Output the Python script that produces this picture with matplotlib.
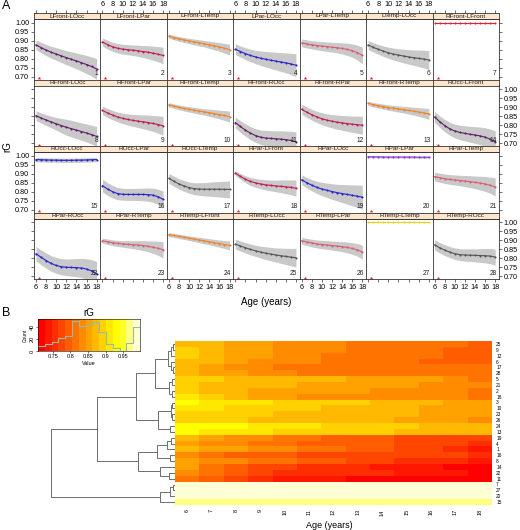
import numpy as np
import matplotlib
matplotlib.use("Agg")
import matplotlib.pyplot as plt
from matplotlib.colors import ListedColormap, BoundaryNorm, hsv_to_rgb
from matplotlib.ticker import FormatStrFormatter

plt.rcParams['font.family'] = ['Liberation Sans', 'DejaVu Sans']

# ---- data ------------------------------------------------------------
ages = np.arange(6, 19)

panel_names = ['LFront-LOcc', 'LFront-LPar', 'LFront-LTemp', 'LPar-LOcc', 'LPar-LTemp', 'LTemp-LOcc', 'RFront-LFront',
               'RFront-LOcc', 'RFront-LPar', 'RFront-LTemp', 'RFront-ROcc', 'RFront-RPar', 'RFront-RTemp', 'ROcc-LFront',
               'ROcc-LOcc', 'ROcc-LPar', 'ROcc-LTemp', 'RPar-LFront', 'RPar-LOcc', 'RPar-LPar', 'RPar-LTemp',
               'RPar-ROcc', 'RPar-RTemp', 'RTemp-LFront', 'RTemp-LOcc', 'RTemp-LPar', 'RTemp-LTemp', 'RTemp-ROcc']

# lobe-pair type of each panel, used for the line colour
pair_type = ['FO', 'FP', 'FT', 'PO', 'PT', 'TO', 'FF',
             'FO', 'FP', 'FT', 'FO', 'FP', 'FT', 'FO',
             'OO', 'PO', 'TO', 'FP', 'PO', 'PP', 'PT',
             'PO', 'PT', 'FT', 'TO', 'PT', 'TT', 'TO']

type_colors = {'FO': '#5E1F63', 'FP': '#C2185B', 'FT': '#F5821F', 'PO': '#2424CC', 'PT': '#DA5C72',
               'TO': '#555555', 'FF': '#E8202A', 'OO': '#2424CC', 'PP': '#8E35D8', 'TT': '#EBD21C'}

# mean genetic correlation per age (6..18)
rg_mean = [
    [0.877, 0.862, 0.848, 0.836, 0.826, 0.816, 0.806, 0.797, 0.788, 0.778, 0.768, 0.757, 0.743],
    [0.893, 0.878, 0.866, 0.858, 0.853, 0.850, 0.847, 0.844, 0.840, 0.836, 0.831, 0.825, 0.818],
    [0.925, 0.917, 0.910, 0.904, 0.898, 0.893, 0.888, 0.883, 0.877, 0.871, 0.865, 0.858, 0.850],
    [0.853, 0.840, 0.828, 0.818, 0.810, 0.803, 0.797, 0.792, 0.787, 0.782, 0.777, 0.771, 0.764],
    [0.888, 0.882, 0.877, 0.873, 0.870, 0.867, 0.864, 0.861, 0.857, 0.852, 0.845, 0.834, 0.818],
    [0.876, 0.863, 0.852, 0.842, 0.833, 0.826, 0.820, 0.815, 0.810, 0.806, 0.802, 0.798, 0.793],
    [0.997, 0.997, 0.997, 0.997, 0.997, 0.997, 0.997, 0.997, 0.997, 0.997, 0.997, 0.997, 0.997],
    [0.853, 0.840, 0.829, 0.818, 0.808, 0.798, 0.789, 0.781, 0.773, 0.765, 0.757, 0.748, 0.738],
    [0.882, 0.868, 0.856, 0.846, 0.838, 0.832, 0.827, 0.823, 0.819, 0.815, 0.810, 0.804, 0.797],
    [0.913, 0.906, 0.899, 0.893, 0.888, 0.883, 0.878, 0.874, 0.869, 0.864, 0.859, 0.854, 0.848],
    [0.815, 0.793, 0.773, 0.756, 0.743, 0.734, 0.729, 0.727, 0.725, 0.723, 0.720, 0.716, 0.708],
    [0.888, 0.872, 0.858, 0.846, 0.836, 0.828, 0.822, 0.817, 0.813, 0.809, 0.806, 0.803, 0.800],
    [0.921, 0.914, 0.908, 0.903, 0.898, 0.894, 0.890, 0.886, 0.882, 0.878, 0.873, 0.868, 0.863],
    [0.845, 0.820, 0.798, 0.780, 0.768, 0.760, 0.755, 0.750, 0.746, 0.741, 0.734, 0.723, 0.708],
    [0.978, 0.977, 0.976, 0.975, 0.975, 0.974, 0.974, 0.974, 0.975, 0.975, 0.976, 0.977, 0.978],
    [0.834, 0.815, 0.800, 0.790, 0.786, 0.785, 0.785, 0.785, 0.785, 0.784, 0.781, 0.772, 0.758],
    [0.874, 0.858, 0.843, 0.832, 0.823, 0.817, 0.815, 0.814, 0.814, 0.814, 0.814, 0.813, 0.813],
    [0.903, 0.885, 0.869, 0.857, 0.849, 0.843, 0.838, 0.835, 0.832, 0.830, 0.827, 0.824, 0.820],
    [0.866, 0.850, 0.836, 0.824, 0.815, 0.808, 0.801, 0.795, 0.790, 0.785, 0.780, 0.775, 0.770],
    [0.994, 0.993, 0.993, 0.992, 0.992, 0.992, 0.992, 0.992, 0.992, 0.992, 0.991, 0.991, 0.991],
    [0.884, 0.878, 0.872, 0.868, 0.865, 0.862, 0.859, 0.856, 0.852, 0.848, 0.843, 0.836, 0.826],
    [0.825, 0.805, 0.787, 0.771, 0.760, 0.753, 0.750, 0.749, 0.748, 0.746, 0.740, 0.730, 0.714],
    [0.897, 0.891, 0.886, 0.882, 0.879, 0.877, 0.875, 0.873, 0.870, 0.866, 0.861, 0.855, 0.847],
    [0.931, 0.926, 0.921, 0.916, 0.911, 0.906, 0.901, 0.896, 0.891, 0.886, 0.881, 0.876, 0.871],
    [0.878, 0.868, 0.858, 0.849, 0.841, 0.834, 0.828, 0.823, 0.818, 0.814, 0.810, 0.806, 0.803],
    [0.897, 0.890, 0.884, 0.879, 0.876, 0.873, 0.870, 0.867, 0.864, 0.860, 0.854, 0.846, 0.834],
    [0.998, 0.998, 0.998, 0.998, 0.998, 0.998, 0.998, 0.998, 0.998, 0.998, 0.998, 0.998, 0.998],
    [0.874, 0.858, 0.845, 0.834, 0.825, 0.820, 0.818, 0.817, 0.816, 0.815, 0.814, 0.812, 0.806],
]

# half width of the grey confidence band
rg_hw = [
    [0.027, 0.029, 0.031, 0.033, 0.035, 0.037, 0.039, 0.041, 0.044, 0.047, 0.050, 0.053, 0.057],
    [0.023, 0.024, 0.025, 0.026, 0.027, 0.028, 0.029, 0.031, 0.033, 0.036, 0.039, 0.042, 0.046],
    [0.012, 0.012, 0.013, 0.014, 0.015, 0.016, 0.017, 0.018, 0.020, 0.022, 0.024, 0.027, 0.030],
    [0.030, 0.031, 0.033, 0.035, 0.037, 0.040, 0.043, 0.046, 0.049, 0.052, 0.055, 0.059, 0.064],
    [0.022, 0.022, 0.023, 0.024, 0.025, 0.026, 0.027, 0.029, 0.031, 0.034, 0.037, 0.041, 0.046],
    [0.025, 0.026, 0.027, 0.029, 0.031, 0.033, 0.035, 0.038, 0.040, 0.043, 0.046, 0.049, 0.053],
    [0.002, 0.002, 0.002, 0.002, 0.002, 0.002, 0.002, 0.002, 0.002, 0.002, 0.002, 0.002, 0.002],
    [0.027, 0.028, 0.030, 0.032, 0.035, 0.040, 0.044, 0.046, 0.047, 0.048, 0.050, 0.052, 0.055],
    [0.024, 0.025, 0.026, 0.027, 0.029, 0.031, 0.033, 0.035, 0.038, 0.041, 0.044, 0.048, 0.052],
    [0.012, 0.012, 0.013, 0.014, 0.015, 0.016, 0.017, 0.018, 0.020, 0.022, 0.024, 0.027, 0.030],
    [0.030, 0.032, 0.034, 0.036, 0.038, 0.040, 0.042, 0.043, 0.044, 0.046, 0.048, 0.051, 0.055],
    [0.028, 0.029, 0.030, 0.031, 0.033, 0.035, 0.037, 0.039, 0.041, 0.043, 0.045, 0.047, 0.050],
    [0.012, 0.012, 0.013, 0.014, 0.015, 0.016, 0.017, 0.018, 0.020, 0.022, 0.024, 0.027, 0.030],
    [0.030, 0.032, 0.034, 0.036, 0.038, 0.040, 0.042, 0.044, 0.046, 0.049, 0.052, 0.056, 0.060],
    [0.012, 0.012, 0.012, 0.012, 0.012, 0.012, 0.012, 0.012, 0.012, 0.012, 0.012, 0.012, 0.012],
    [0.035, 0.035, 0.035, 0.034, 0.033, 0.033, 0.033, 0.034, 0.035, 0.037, 0.039, 0.042, 0.046],
    [0.027, 0.028, 0.029, 0.030, 0.031, 0.033, 0.035, 0.037, 0.039, 0.041, 0.043, 0.045, 0.047],
    [0.013, 0.016, 0.019, 0.022, 0.024, 0.026, 0.028, 0.030, 0.032, 0.035, 0.038, 0.041, 0.045],
    [0.027, 0.029, 0.031, 0.034, 0.037, 0.040, 0.043, 0.046, 0.050, 0.054, 0.058, 0.062, 0.066],
    [0.005, 0.005, 0.005, 0.005, 0.005, 0.005, 0.005, 0.005, 0.005, 0.005, 0.005, 0.005, 0.005],
    [0.024, 0.025, 0.026, 0.027, 0.028, 0.029, 0.031, 0.033, 0.035, 0.038, 0.041, 0.045, 0.050],
    [0.040, 0.041, 0.042, 0.043, 0.044, 0.045, 0.046, 0.048, 0.050, 0.053, 0.057, 0.062, 0.068],
    [0.014, 0.015, 0.016, 0.017, 0.018, 0.020, 0.022, 0.024, 0.027, 0.030, 0.034, 0.039, 0.045],
    [0.011, 0.011, 0.012, 0.012, 0.013, 0.014, 0.015, 0.016, 0.017, 0.018, 0.020, 0.022, 0.024],
    [0.027, 0.028, 0.029, 0.030, 0.031, 0.033, 0.035, 0.037, 0.039, 0.042, 0.045, 0.048, 0.052],
    [0.019, 0.020, 0.021, 0.022, 0.023, 0.024, 0.025, 0.026, 0.028, 0.030, 0.032, 0.035, 0.038],
    [0.002, 0.002, 0.002, 0.002, 0.002, 0.002, 0.002, 0.002, 0.002, 0.002, 0.002, 0.002, 0.002],
    [0.028, 0.029, 0.030, 0.031, 0.032, 0.033, 0.034, 0.035, 0.036, 0.038, 0.040, 0.042, 0.045],
]

# small red star drawn in the corner of every panel
star_age, star_rg = 6.6, 0.693

# heatmap row order (panel numbers, top to bottom) and the dendrogram
heat_order = [25, 9, 12, 6, 17, 28, 5, 21, 2, 18, 3, 10, 23, 26, 24, 13,
              19, 4, 1, 16, 8, 14, 22, 11, 7, 27, 20, 15]
dendro_tree = (123,
               (77,
                (38,
                 (19, (6, (3, (1.5, 25, 9), 12), (3, 6, (1.5, 17, 28))),
                      (5, (2.5, 5, 21), (2, 2, 18))),
                 (16, (3.5, (2, 3, 10), (2, 23, 26)), (4, 24, 13))),
                (36,
                 (17, (7, (3, 19, 4), 1), (4, 16, 8)),
                 (14, 14, (5, 22, 11)))),
               (14, (4, (1, 7, 27), 20), 15))

key_ticks = [0.75, 0.80, 0.85, 0.90, 0.95]
key_ticklabels = ['0.75', '0.8', '0.85', '0.9', '0.95']

# ---- figure ----------------------------------------------------------
W, H = 520, 530
fig = plt.figure(figsize=(W / 100, H / 100), dpi=100)


def px_axes(x0, y0, w, h):
    # pixel box, measured from the top-left corner
    return fig.add_axes([x0 / W, 1 - (y0 + h) / H, w / W, h / H])


frame_col = '#333333'
col_x0, col_w = 34, 66.43
row_y0, row_step, strip_h, plot_h = 13, 66.5, 6, 60.5

for i, name in enumerate(panel_names):
    r, c = divmod(i, 7)
    x0 = col_x0 + c * col_w
    top = row_y0 + r * row_step
    ax = px_axes(x0, top + strip_h, col_w, plot_h)
    sax = px_axes(x0, top, col_w, strip_h)

    m = np.array(rg_mean[i])
    hw = np.array(rg_hw[i])
    col = type_colors[pair_type[i]]
    ax.fill_between(ages, m - hw, m + hw, color='#C9C9C9', lw=0)
    ax.plot(ages, m, color=col, lw=0.8, marker='o', ms=1.5, mew=0)
    ax.plot(star_age, star_rg, marker='*', color='#E8202A', ms=2.8, mew=0)
    ax.text(18.3, 0.697, str(i + 1), ha='right', va='bottom', fontsize=4.8, color='#222222')

    ax.set_xlim(5.6, 18.75)
    ax.set_ylim(0.685, 1.02)
    ax.set_xticks(range(6, 19, 2))
    ax.set_yticks([0.70, 0.75, 0.80, 0.85, 0.90, 0.95, 1.00])
    ax.yaxis.set_major_formatter(FormatStrFormatter('%.2f'))
    ax.tick_params(direction='out', length=2, width=0.5, pad=1.5, labelsize=5.2, color=frame_col,
                   bottom=(r == 3), top=False, left=(c == 0), right=(c == 6),
                   labelbottom=(r == 3 and c % 2 == 0), labelleft=(c == 0 and r % 2 == 0),
                   labelright=(c == 6 and r % 2 == 1), labeltop=False)
    for s in ax.spines.values():
        s.set_color(frame_col)
        s.set_linewidth(0.6)

    sax.set_facecolor('#FFE5CC')
    sax.set_xlim(5.6, 18.75)
    sax.set_ylim(0, 1)
    sax.text(0.5, 0.5, name, transform=sax.transAxes, ha='center', va='center', fontsize=4.6, color='#222222')
    sax.set_xticks(range(6, 19, 2))
    sax.set_yticks([])
    sax.tick_params(direction='out', length=2, width=0.5, pad=1.5, labelsize=5.2, color=frame_col,
                    bottom=False, labelbottom=False, top=(r == 0), labeltop=(r == 0 and c % 2 == 1))
    for s in sax.spines.values():
        s.set_color(frame_col)
        s.set_linewidth(0.6)

fig.text(7 / W, 1 - 147 / H, 'rG', rotation=90, fontsize=7, ha='center', va='center')
fig.text(266 / W, 1 - 302 / H, 'Age (years)', fontsize=7, ha='center', va='center')
fig.text(2 / W, 1 - 6 / H, 'A', fontsize=9, ha='left', va='center')
fig.text(2 / W, 1 - 313 / H, 'B', fontsize=9, ha='left', va='center')

# ---- heatmap ---------------------------------------------------------
# R heat.colors(15)
n_col = 15
n_j = n_col // 4
n_i = n_col - n_j
heat = [hsv_to_rgb((h, 1, 1)) for h in np.linspace(0, 1 / 6, n_i)]
heat += [hsv_to_rgb((1 / 6, s, 1)) for s in np.linspace(1 - 1 / (2 * n_j), 1 / (2 * n_j), n_j)]
cmap = ListedColormap(heat)

all_vals = np.array(rg_mean)
breaks = np.linspace(all_vals.min(), all_vals.max(), n_col + 1)
norm = BoundaryNorm(breaks, n_col)

mat = np.array([rg_mean[k - 1] for k in heat_order])
hax = px_axes(175, 341, 317, 164)
hax.pcolormesh(np.arange(5.5, 19.5), np.arange(29), mat, cmap=cmap, norm=norm)
hax.set_xlim(5.5, 18.5)
hax.set_ylim(28, 0)
hax.set_xticks(ages)
hax.set_xticklabels([str(a) for a in ages], rotation=90, fontsize=4)
hax.set_yticks(np.arange(28) + 0.5)
hax.set_yticklabels([str(k) for k in heat_order], fontsize=3.4)
hax.yaxis.tick_right()
hax.tick_params(length=0, pad=3)
for s in hax.spines.values():
    s.set_visible(False)
fig.text(329 / W, 1 - 525 / H, 'Age (years)', fontsize=6.5, ha='center', va='center')

# ---- dendrogram ------------------------------------------------------
dax = px_axes(45, 341, 130, 164)
dax.set_xlim(129, -1)
dax.set_ylim(28, 0)
dax.axis('off')
leaf_pos = {k: j + 0.5 for j, k in enumerate(heat_order)}


def draw_node(node):
    if not isinstance(node, tuple):
        return leaf_pos[node], 0
    h, a, b = node
    ya, ha = draw_node(a)
    yb, hb = draw_node(b)
    dax.plot([ha, h, h, hb], [ya, ya, yb, yb], color='#6E6E6E', lw=0.7)
    return (ya + yb) / 2, h


draw_node(dendro_tree)

# ---- colour key with histogram --------------------------------------
kax = px_axes(38, 319, 102, 32)
counts, _ = np.histogram(all_vals.ravel(), bins=breaks)
top = counts.max() / 0.95
kax.pcolormesh(breaks, [0, top], np.array([(breaks[:-1] + breaks[1:]) / 2]), cmap=cmap, norm=norm)
kax.step(breaks, np.r_[counts, counts[-1]], where='post', color='#93BBA8', lw=0.8)
kax.set_xlim(breaks[0], breaks[-1])
kax.set_ylim(0, top)
kax.set_xticks(key_ticks)
kax.set_xticklabels(key_ticklabels)
kax.set_yticks([0, 20, 40])
kax.set_yticklabels(['0', '20', '40'], rotation=90, va='center')
kax.tick_params(length=1.5, width=0.4, pad=1, labelsize=4)
kax.set_xlabel('Value', fontsize=4, labelpad=1)
kax.set_ylabel('Count', fontsize=3.5, labelpad=1)
kax.set_title('rG', fontsize=7, pad=2)
for s in kax.spines.values():
    s.set_linewidth(0.4)

fig.savefig('out.png', dpi=100)
